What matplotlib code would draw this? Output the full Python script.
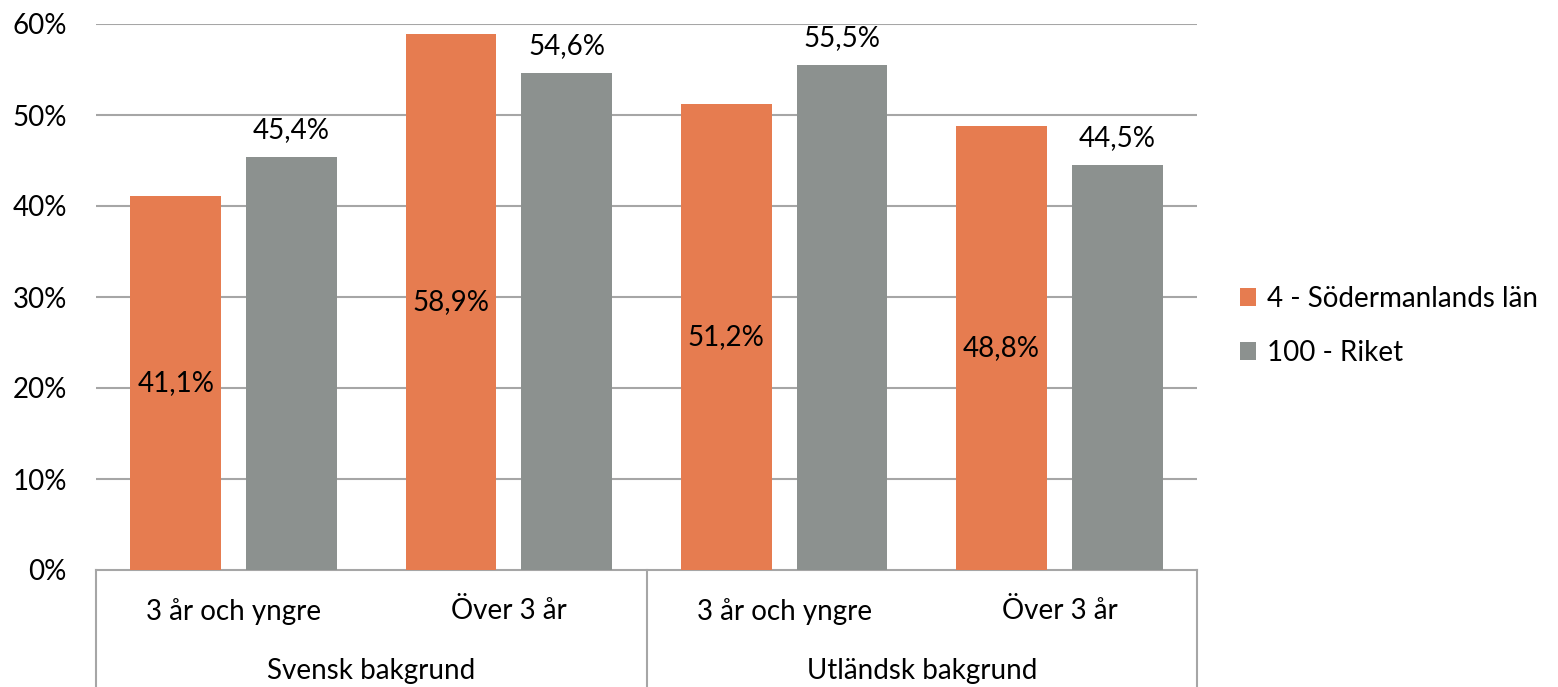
import matplotlib
matplotlib.use("Agg")
from matplotlib import pyplot as plt
import matplotlib.transforms as mtransforms
import numpy as np

plt.rcParams['font.family'] = ['Lato', 'DejaVu Sans']

inner_labels = ["3 år och yngre", "Över 3 år", "3 år och yngre", "Över 3 år"]
outer_labels = ["Svensk bakgrund", "Utländsk bakgrund"]
series_names = ["4 - Södermanlands län", "100 - Riket"]
sodermanland = [41.1, 58.9, 51.2, 48.8]
riket = [45.4, 54.6, 55.5, 44.5]
yticks = [0, 10, 20, 30, 40, 50, 60]

orange = "#E67C50"
grey = "#8C918F"
line_grey = "#A6A6A6"
fs = 20

fig = plt.figure(figsize=(15.58, 6.87), dpi=100)
ax = fig.add_axes([96/1558, 117/687, 1101/1558, 546/687])

x = np.arange(len(inner_labels))
w = 0.33
off = 0.21
b1 = ax.bar(x - off, sodermanland, w, color=orange, label=series_names[0], zorder=3)
b2 = ax.bar(x + off, riket, w, color=grey, label=series_names[1], zorder=3)

for rect, v in zip(b1, sodermanland):
    ax.text(rect.get_x() + rect.get_width()/2, v/2, f"{v:.1f}%".replace(".", ","),
            ha="center", va="center", fontsize=fs, color="black", zorder=4)
for rect, v in zip(b2, riket):
    ax.text(rect.get_x() + rect.get_width()/2, v + 1.5, f"{v:.1f}%".replace(".", ","),
            ha="center", va="bottom", fontsize=fs, color="black", zorder=4)

ax.set_xlim(-0.5, len(inner_labels) - 0.5)
ax.set_ylim(0, 60)
ax.set_yticks(yticks)
ax.set_yticklabels([f"{t}%" for t in yticks], fontsize=fs)
ax.tick_params(axis="y", length=0, pad=21)
ax.set_xticks(x)
ax.set_xticklabels(inner_labels, fontsize=fs)
ax.tick_params(axis="x", length=0, pad=20)

for t in yticks[1:]:
    ax.axhline(t, color=line_grey, lw=1.5, zorder=1)
for s in ["left", "right", "top"]:
    ax.spines[s].set_visible(False)
ax.spines["bottom"].set_color(line_grey)
ax.spines["bottom"].set_linewidth(1.5)

# hierarchical category axis
trans = mtransforms.blended_transform_factory(ax.transData, ax.transAxes)
for xs in [-0.5, 1.5, 3.5]:
    ax.plot([xs, xs], [0, -0.25], transform=trans, color=line_grey, lw=1.5, clip_on=False)
for i, lab in enumerate(outer_labels):
    ax.text(2*i + 0.5, -0.185, lab, transform=trans, ha="center", va="center", fontsize=fs)

ax.legend(handles=[b1, b2], loc="center left", bbox_to_anchor=(1.016, 0.447), frameon=False,
          fontsize=fs, handlelength=0.6, handleheight=0.6, handletextpad=0.4, labelspacing=1.0)

fig.savefig("out.png", dpi=100)
